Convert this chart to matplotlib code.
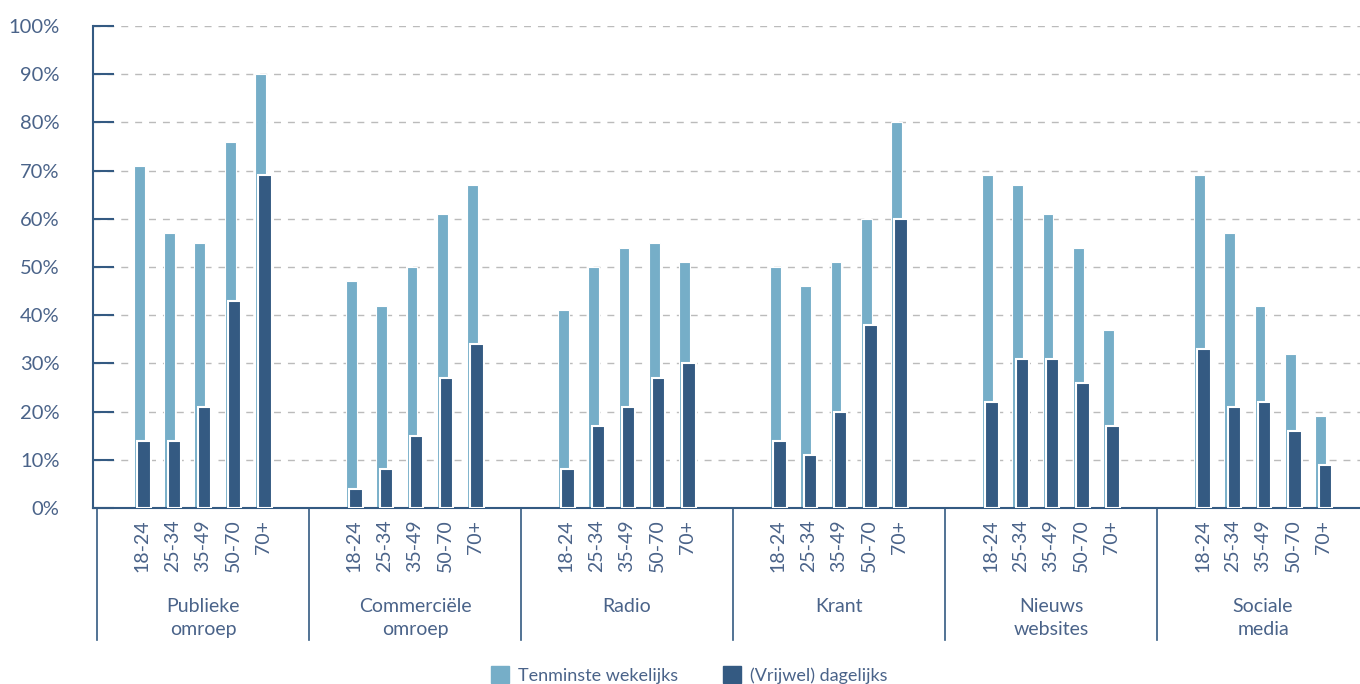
import matplotlib
matplotlib.use("Agg")
import matplotlib.pyplot as plt
import matplotlib.transforms as mtransforms
from matplotlib.patches import Patch
import numpy as np

plt.rcParams['font.family'] = ['Lato', 'DejaVu Sans']

# data
groups = ["Publieke\nomroep", "Commerciële\nomroep", "Radio", "Krant", "Nieuws\nwebsites", "Sociale\nmedia"]
ages = ["18-24", "25-34", "35-49", "50-70", "70+"]
weekly = [
    [71, 57, 55, 76, 90],
    [47, 42, 50, 61, 67],
    [41, 50, 54, 55, 51],
    [50, 46, 51, 60, 80],
    [69, 67, 61, 54, 37],
    [69, 57, 42, 32, 19],
]
daily = [
    [14, 14, 21, 43, 69],
    [4, 8, 15, 27, 34],
    [8, 17, 21, 27, 30],
    [14, 11, 20, 38, 60],
    [22, 31, 31, 26, 17],
    [33, 21, 22, 16, 9],
]
labels = ["Tenminste wekelijks", "(Vrijwel) dagelijks"]

LIGHT = "#76aec8"
DARK = "#345a82"
TEXT = "#4a6389"
SLOTS = 7  # slots per group, 5 bars + 2 blank

fig = plt.figure(figsize=(13.6, 6.84), dpi=100)
ax = fig.add_axes([0.0684, 0.2573, 0.9316, 0.7047])

for g in range(len(groups)):
    xs = g * SLOTS + np.arange(len(ages)) + 1.5
    ax.bar(xs - 0.1, weekly[g], width=0.36, color=LIGHT, edgecolor="white", linewidth=0.8, zorder=2)
    ax.bar(xs + 0.05, daily[g], width=0.44, color=DARK, edgecolor="white", linewidth=1.5, zorder=3)

ax.set_ylim(0, 100)
ax.set_xlim(-0.13, 41.7)
ax.set_yticks(np.arange(0, 101, 10))
ax.set_yticklabels([f"{v}%" for v in range(0, 101, 10)], fontsize=14.5, color=TEXT)
ax.tick_params(axis="y", direction="in", length=15, width=1.5, color=DARK, pad=24)
for lbl in ax.get_yticklabels():
    lbl.set_horizontalalignment("right")
ax.set_xticks([])
ax.yaxis.grid(True, linestyle=(0, (5, 5)), color="#bbbbbb", linewidth=1, zorder=0)

for side in ["top", "right"]:
    ax.spines[side].set_visible(False)
ax.spines["left"].set_color(DARK)
ax.spines["left"].set_linewidth(1.5)
ax.spines["bottom"].set_color(DARK)
ax.spines["bottom"].set_linewidth(1.5)

# category axis below the plot
trans = mtransforms.blended_transform_factory(ax.transData, ax.transAxes)
for g in range(len(groups) + 1):
    ax.plot([g * SLOTS, g * SLOTS], [0, -0.274], transform=trans, color=DARK,
            linewidth=1.2, clip_on=False)
for g, name in enumerate(groups):
    for k, age in enumerate(ages):
        ax.text(g * SLOTS + k + 1.5, -0.024, age, transform=trans,
                rotation=90, ha="center", va="top", fontsize=14, color=TEXT)
    ax.text(g * SLOTS + 3.5, -0.186, name, transform=trans, ha="center", va="top",
            fontsize=14, color=TEXT, linespacing=1.45)

handles = [Patch(color=LIGHT), Patch(color=DARK)]
fig.legend(handles, labels, loc="center", bbox_to_anchor=(0.507, 0.013), ncol=2,
           frameon=False, fontsize=13, labelcolor=TEXT, handlelength=1.0,
           handleheight=1.0, columnspacing=2.5, handletextpad=0.5)

fig.savefig("out.png", dpi=100)
